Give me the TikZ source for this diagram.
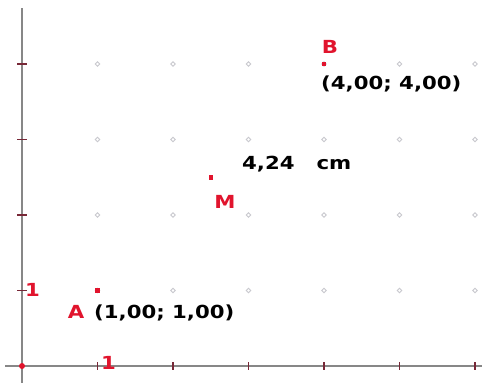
\documentclass[tikz,border=0pt]{standalone}
\usepackage{fontspec}
\newfontfamily\gf{DejaVu Sans}[FakeStretch=1.18]
\definecolor{ptred}{RGB}{225,20,45}
\definecolor{axgray}{RGB}{135,135,135}
\definecolor{tickc}{RGB}{120,40,55}
\definecolor{griddot}{RGB}{200,200,206}
\begin{document}
\begin{tikzpicture}[x=1pt,y=-1pt,
  lab/.style={inner sep=0pt,font=\gf\bfseries\fontsize{18}{18}\selectfont},
  redlab/.style={lab,text=ptred},
  blklab/.style={lab,text=black},
  pt/.style={fill=ptred,minimum size=4.5pt,inner sep=0pt,draw=none},
  axis/.style={draw=axgray,line width=1.5pt},
  tick/.style={draw=tickc,line width=1.2pt}]
\useasboundingbox[fill=white] (0,0) rectangle (482,383);
% grid dots
\foreach \i in {1,...,6}{
  \foreach \j in {1,...,4}{
    \pgfmathsetmacro{\gx}{22+75.5*\i}
    \pgfmathsetmacro{\gy}{366-75.5*\j}
    \draw[griddot,line width=0.8pt] (\gx-2.2,\gy) -- (\gx,\gy-2.2) -- (\gx+2.2,\gy) -- (\gx,\gy+2.2) -- cycle;
  }
}
% axes
\coordinate (xs) at (5,366);
\coordinate (xe) at (482,366);
\coordinate (ys) at (22,8);
\coordinate (ye) at (22,383);
\draw[axis] (xs) -- (xe);
\draw[axis] (ys) -- (ye);
\foreach \i in {1,...,6}{
  \pgfmathsetmacro{\gx}{22+75.5*\i}
  \draw[tick] (\gx,362) -- (\gx,370);
}
\foreach \j in {1,...,4}{
  \pgfmathsetmacro{\gy}{366-75.5*\j}
  \draw[tick] (17,\gy) -- (27,\gy);
}
\node[pt,circle,minimum size=6pt] (O) at (22,366) {};
\node[redlab,anchor=base west] (one y) at (25,296) {1};
\node[redlab,anchor=base west] (one x) at (101,369) {1};
% points
\node[pt] (A) at (97.5,290.5) {};
\node[pt] (B) at (324,64) {};
\node[pt] (M) at (210.75,177.25) {};
% labels
\node[redlab,anchor=base] (Alab) at (76,318) {A};
\node[blklab,anchor=base west] (Acoord) at (94,318) {(1,00; 1,00)};
\node[redlab,anchor=base] (Blab) at (330,53) {B};
\node[blklab,anchor=base west] (Bcoord) at (321,89) {(4,00; 4,00)};
\node[redlab,anchor=base] (Mlab) at (225,208) {M};
\node[blklab,anchor=base west] (dist) at (242,169) {4,24\hspace{22pt}cm};
\end{tikzpicture}
\end{document}
